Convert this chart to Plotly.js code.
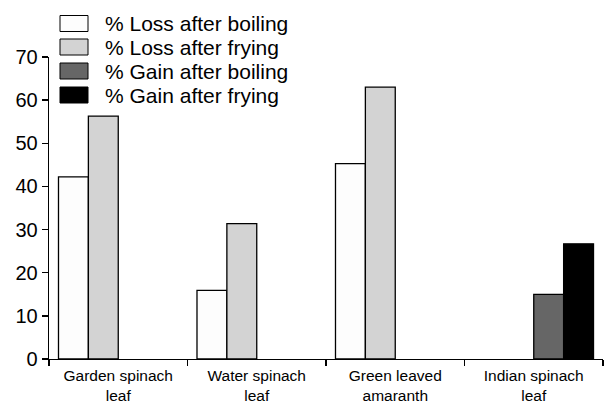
<!DOCTYPE html>
<html>
<head>
<meta charset="utf-8">
<script src="https://cdn.plot.ly/plotly-3.0.1.min.js"></script>
<style>html,body{margin:0;padding:0;background:#fff;}#chart{width:604px;height:405px;}</style>
</head>
<body>
<div id="chart"></div>
<script>
const categories = ["Garden spinach<br>leaf", "Water spinach<br>leaf", "Green leaved<br>amaranth", "Indian spinach<br>leaf"];
const seriesNames = ["% Loss after boiling", "% Loss after frying", "% Gain after boiling", "% Gain after frying"];
const lossBoiling = [42.2, 15.9, 45.3, null];
const lossFrying = [56.3, 31.4, 63.0, null];
const gainBoiling = [null, null, null, 15.0];
const gainFrying = [null, null, null, 26.7];
const yTicks = [0, 10, 20, 30, 40, 50, 60, 70];

const seriesValues = [lossBoiling, lossFrying, gainBoiling, gainFrying];
const colors = ["#fdfdfd", "#d3d3d3", "#666666", "#000000"];

const traces = seriesValues.map((vals, i) => ({
  type: "bar",
  name: seriesNames[i],
  x: categories,
  y: vals,
  marker: {color: colors[i], line: {color: "#000", width: 1.3}},
  showlegend: false,
  hoverinfo: "skip"
}));

// plot area in pixels: left 49, right 603, top 57, bottom 359
const L = 49, R = 603, T = 57, B = 359;
const px = x => (x - L) / (R - L);
const py = y => (B - y) / (B - T);

const legendRows = [23.5, 47, 71, 95];
const shapes = [];
const annotations = [];
seriesNames.forEach((n, i) => {
  const yc = legendRows[i];
  shapes.push({type: "rect", xref: "paper", yref: "paper",
    x0: px(60), x1: px(88), y0: py(yc - 8), y1: py(yc + 8),
    fillcolor: colors[i], line: {color: "#000", width: 1}});
  annotations.push({xref: "paper", yref: "paper", x: px(103), y: py(yc),
    xanchor: "left", yanchor: "middle", showarrow: false, text: n,
    font: {family: "Liberation Sans, Arial, sans-serif", size: 21, color: "#000"}});
});

const layout = {
  width: 604, height: 405,
  margin: {l: L, r: 604 - R, t: T, b: 405 - B, pad: 0},
  paper_bgcolor: "#fff", plot_bgcolor: "#fff",
  barmode: "group", bargap: 0.137, bargroupgap: 0,
  font: {family: "Liberation Sans, Arial, sans-serif", color: "#000"},
  xaxis: {
    type: "category", showline: true, linecolor: "#000", linewidth: 1.3,
    ticks: "outside", tickson: "boundaries", ticklen: 6, tickcolor: "#000", tickwidth: 1.3,
    ticklabelstandoff: 2,
    tickfont: {size: 15.5, color: "#000"}, showgrid: false, zeroline: false, fixedrange: true
  },
  yaxis: {
    range: [0, 70], tickvals: yTicks, ticktext: yTicks.map(String),
    showline: true, linecolor: "#000", linewidth: 1.3,
    ticks: "outside", ticklen: 6, tickcolor: "#000", tickwidth: 1.3,
    tickfont: {size: 20, color: "#000"}, showgrid: false, zeroline: false, fixedrange: true
  },
  shapes: shapes,
  annotations: annotations,
  showlegend: false
};

Plotly.newPlot("chart", traces, layout, {displayModeBar: false, staticPlot: true});
</script>
</body>
</html>
